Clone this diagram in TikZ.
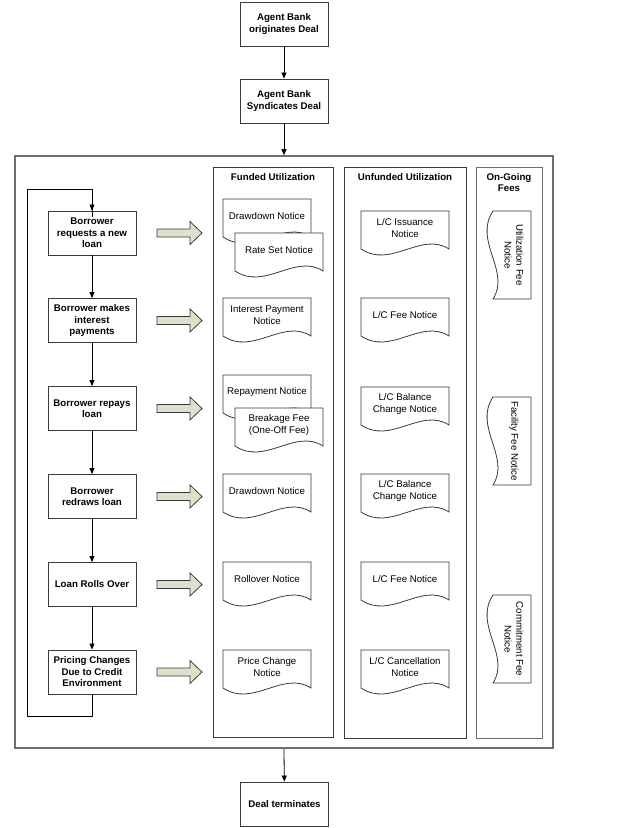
\documentclass[tikz,border=0pt]{standalone}
\usepackage{fontspec}
\setmainfont{Liberation Sans}
\usetikzlibrary{arrows.meta,calc}
\definecolor{linegray}{HTML}{3A3A3A}
\definecolor{framegray}{HTML}{6E6E6E}
\definecolor{arrowfill}{HTML}{DDE0CC}
\tikzset{
  flowbox/.style={draw=linegray, line width=0.9bp, fill=white, minimum width=88bp, minimum height=44bp,
    align=center, inner sep=1bp, font=\fontsize{9.7bp}{11.5bp}\selectfont\bfseries},
  lane/.style={draw=linegray, line width=0.9bp, inner sep=0pt},
  outerframe/.style={draw=framegray, line width=1.6bp, inner sep=0pt},
  lanetitle/.style={align=center, inner sep=0pt, font=\fontsize{9.7bp}{11.5bp}\selectfont\bfseries},
  docline/.style={draw=linegray, line width=0.8bp, fill=white},
  doctext/.style={align=center, inner sep=0pt, font=\fontsize{9.7bp}{11.7bp}\selectfont},
  flow/.style={draw=black, line width=0.8bp, -{Triangle[length=6bp,width=5bp]}},
  loopline/.style={draw=black, line width=0.8bp},
  blockarrow/.style={draw=linegray, line width=0.8bp, fill=arrowfill}
}
\newcommand\mydoc[5]{%
  \begin{scope}[shift={(#2,#3)}, rotate=#4]
    \draw[docline] (0,0) -- (88,0) -- (88,38) .. controls (60,20) and (30,58) .. (0,38) -- cycle;
    \node[doctext, rotate=#4] (#1) at (44,17) {#5};
  \end{scope}}
\newcommand\myblockarrow[2]{%
  \coordinate (#1) at (157,#2);
  \draw[blockarrow] (#1) ++(0,-4) -- ++(33,0) -- ++(0,-7.5) -- ++(12,11.5) -- ++(-12,11.5) -- ++(0,-7.5) -- ++(-33,0) -- cycle;}
\begin{document}
\begin{tikzpicture}[x=1bp,y=-1bp]
\useasboundingbox (0,0) rectangle (626,828);

% top boxes
\node[flowbox] (orig) at (284,24) {Agent Bank\\originates Deal};
\node[flowbox] (synd) at (284,101) {Agent Bank\\Syndicates Deal};

% outer frame
\node[outerframe, minimum width=538bp, minimum height=592bp] (frame) at (284,452) {};

% lanes
\node[lane, minimum width=120bp, minimum height=570bp] (funded) at (273,452) {};
\node[lane, minimum width=122bp, minimum height=571bp] (unfunded) at (405,452.5) {};
\node[lane, draw=framegray, minimum width=66bp, minimum height=571bp] (ongoing) at (509,452.5) {};
\node[lanetitle] (tfunded) at (273,177) {Funded Utilization};
\node[lanetitle] (tunfunded) at (405,177) {Unfunded Utilization};
\node[lanetitle] (tongoing) at (509,182.5) {On-Going\\Fees};

% left flow
\node[flowbox] (b1) at (92,233) {Borrower\\requests a new\\loan};
\node[flowbox] (b2) at (92,320.5) {Borrower makes\\interest\\payments};
\node[flowbox] (b3) at (92,408.5) {Borrower repays\\loan};
\node[flowbox] (b4) at (92,496.5) {Borrower\\redraws loan};
\node[flowbox] (b5) at (92,584.5) {Loan Rolls Over};
\node[flowbox] (b6) at (92,672) {Pricing Changes\\Due to Credit\\Environment};

\node[flowbox] (term) at (284.5,804) {Deal terminates};

\draw[flow] (orig) -- (synd);
\draw[flow] (synd) -- (frame.north);
\draw[flow] (frame.south) -- (term);
\draw[flow] (b1) -- (b2);
\draw[flow] (b2) -- (b3);
\draw[flow] (b3) -- (b4);
\draw[flow] (b4) -- (b5);
\draw[flow] (b5) -- (b6);
\coordinate (loopA) at (27,716);
\coordinate (loopB) at (27,189);
\draw[loopline] (b6.south) |- (loopA) -- (loopB) -| ([yshift=-6bp]b1.north);
\draw[flow] (b1.north |- loopB) -- (b1.north);

% block arrows
\myblockarrow{ba1}{233}
\myblockarrow{ba2}{320.5}
\myblockarrow{ba3}{408.5}
\myblockarrow{ba4}{496.5}
\myblockarrow{ba5}{584.5}
\myblockarrow{ba6}{672}

% funded documents
\mydoc{d1}{223}{199}{0}{Drawdown Notice}
\mydoc{d2}{235}{233}{0}{Rate Set Notice}
\mydoc{d3}{223}{298}{0}{Interest Payment\\Notice}
\mydoc{d4}{223}{375}{0}{Repayment Notice}
\mydoc{d5}{235}{408}{0}{Breakage Fee\\(One-Off Fee)}
\mydoc{d6}{223}{474}{0}{Drawdown Notice}
\mydoc{d7}{223}{562}{0}{Rollover Notice}
\mydoc{d8}{223}{650}{0}{Price Change\\Notice}

% unfunded documents
\mydoc{u1}{361}{211}{0}{L/C Issuance\\Notice}
\mydoc{u2}{361}{298}{0}{L/C Fee Notice}
\mydoc{u3}{361}{387}{0}{L/C Balance\\Change Notice}
\mydoc{u4}{361}{474}{0}{L/C Balance\\Change Notice}
\mydoc{u5}{361}{562}{0}{L/C Fee Notice}
\mydoc{u6}{361}{650}{0}{L/C Cancellation\\Notice}

% on-going fee documents
\mydoc{f1}{531}{211}{-90}{Utilization Fee\\Notice}
\mydoc{f2}{531}{397}{-90}{Facility Fee Notice}
\mydoc{f3}{531}{595}{-90}{Commitment Fee\\Notice}
\end{tikzpicture}
\end{document}
